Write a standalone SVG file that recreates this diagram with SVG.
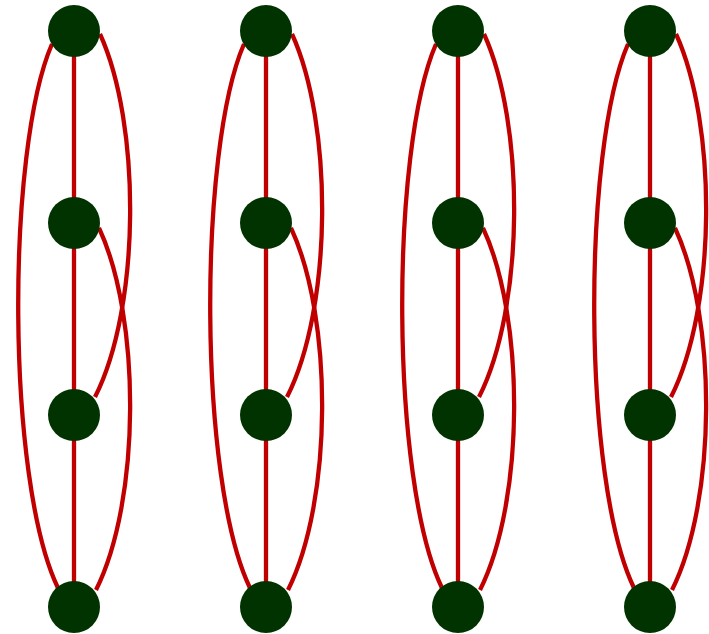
<svg xmlns="http://www.w3.org/2000/svg" width="709" height="634" viewBox="0 0 709 634">
<style>
.e{fill:none;stroke:#c00000;stroke-width:4.3}
.n{fill:#003300}
</style>
<defs>
<g id="colEdges">
<path class="e" d="M74,31 V607"/>
<path class="e" d="M52,44 C6,150 6,480 58,588"/>
<path class="e" d="M100,34 C141,124 141,306 95,397"/>
<path class="e" d="M99,228 C141,318 141,500 96,590"/>
</g>
</defs>
<g id="connectors">
<use href="#colEdges"/>
<use href="#colEdges" transform="translate(192,0)"/>
<use href="#colEdges" transform="translate(384,0)"/>
<use href="#colEdges" transform="translate(576,0)"/>
</g>
<g id="n1-1"><circle class="n" cx="74" cy="31" r="26"/></g>
<g id="n1-2"><circle class="n" cx="74" cy="223" r="26"/></g>
<g id="n1-3"><circle class="n" cx="74" cy="415" r="26"/></g>
<g id="n1-4"><circle class="n" cx="74" cy="607" r="26"/></g>
<g id="n2-1"><circle class="n" cx="266" cy="31" r="26"/></g>
<g id="n2-2"><circle class="n" cx="266" cy="223" r="26"/></g>
<g id="n2-3"><circle class="n" cx="266" cy="415" r="26"/></g>
<g id="n2-4"><circle class="n" cx="266" cy="607" r="26"/></g>
<g id="n3-1"><circle class="n" cx="458" cy="31" r="26"/></g>
<g id="n3-2"><circle class="n" cx="458" cy="223" r="26"/></g>
<g id="n3-3"><circle class="n" cx="458" cy="415" r="26"/></g>
<g id="n3-4"><circle class="n" cx="458" cy="607" r="26"/></g>
<g id="n4-1"><circle class="n" cx="650" cy="31" r="26"/></g>
<g id="n4-2"><circle class="n" cx="650" cy="223" r="26"/></g>
<g id="n4-3"><circle class="n" cx="650" cy="415" r="26"/></g>
<g id="n4-4"><circle class="n" cx="650" cy="607" r="26"/></g>
</svg>
